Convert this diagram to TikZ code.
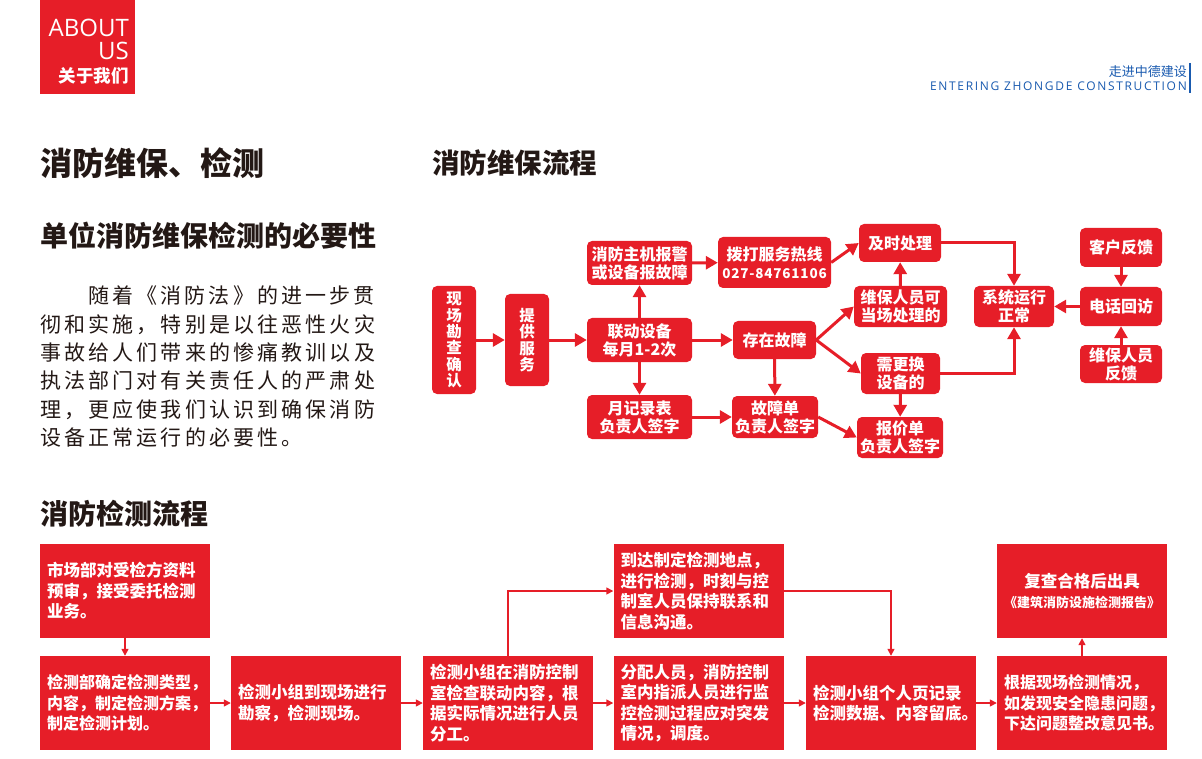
\documentclass[tikz,border=0pt]{standalone}
\usepackage{fontspec}
\setmainfont{Noto Sans CJK SC}
\newfontfamily\latinfont{Open Sans}
\usetikzlibrary{arrows.meta}
\definecolor{firered}{RGB}{230,30,40}
\definecolor{headblue}{RGB}{25,90,175}
\definecolor{inkblack}{RGB}{35,24,21}

\begin{document}
\begin{tikzpicture}[
    x=1pt, y=-1pt,
    flow/.style={rounded corners=5pt, fill=firered, text=white, inner sep=0pt,
        align=center, font=\bfseries\fontsize{16}{18}\selectfont},
    task/.style={fill=firered, text=white, minimum width=170pt, minimum height=94pt,
        inner xsep=7pt, text width=156pt, align=left,
        font=\bfseries\fontsize{16.5}{20.5}\selectfont},
    link/.style={firered, line width=3pt, -{Triangle[length=12pt,width=13pt]}},
    thinlink/.style={firered, line width=1.5pt, -{Triangle[length=7pt,width=7pt]}},
    heading/.style={anchor=west, inner sep=0pt, text=inkblack,
        font=\bfseries\fontsize{28}{28}\selectfont}
]
    \useasboundingbox (0,0) rectangle (1202,759);

    % logo and header
    \node[fill=firered, minimum width=95pt, minimum height=94pt, inner sep=0pt,
        anchor=north west] (logo) at (40,0) {};
    \node[anchor=east, inner sep=0pt, text=white, font=\latinfont\fontsize{24}{24}\selectfont]
        (about) at (129,28) {ABOUT};
    \node[anchor=east, inner sep=0pt, text=white, font=\latinfont\fontsize{24}{24}\selectfont]
        (us) at (129,51) {US};
    \node[anchor=east, inner sep=0pt, text=white, font=\bfseries\fontsize{17.5}{17.5}\selectfont]
        (gywm) at (129,76) {关于我们};
    \node[anchor=east, inner sep=0pt, text=headblue, font=\fontsize{13}{13}\selectfont]
        (zjzd) at (1187,72) {走进中德建设};
    \node[anchor=east, inner sep=0pt, text=headblue,
        font=\latinfont\fontsize{12}{12}\selectfont\addfontfeature{LetterSpace=14}]
        (entering) at (1187,86) {ENTERING ZHONGDE CONSTRUCTION};
    \draw[headblue, line width=1.5pt] (1190,63) -- (1190,93);

    % headings and text
    \node[heading, font=\bfseries\fontsize{32}{32}\selectfont] (title) at (40,163) {消防维保、检测};
    \node[heading] (need) at (40,236) {单位消防维保检测的必要性};
    \node[heading, font=\bfseries\fontsize{27.5}{27.5}\selectfont] (wbtitle) at (432,163) {消防维保流程};
    \node[heading] (jctitle) at (40,514) {消防检测流程};
    \node[anchor=north west, inner sep=0pt, text=inkblack, align=left,
        font=\fontsize{21}{28.3}\selectfont\addfontfeature{LetterSpace=15}] (intro) at (40,286)
        {\hspace*{48pt}随着《消防法》的进一步贯\\
         彻和实施，特别是以往恶性火灾\\
         事故给人们带来的惨痛教训以及\\
         执法部门对有关责任人的严肃处\\
         理，更应使我们认识到确保消防\\
         设备正常运行的必要性。};

    % maintenance flow
    \node[flow, minimum width=44pt, minimum height=108pt, font=\bfseries\fontsize{15.5}{16.3}\selectfont]
        (xcqr) at (454,340) {现\\场\\勘\\查\\确\\认};
    \node[flow, minimum width=44pt, minimum height=92pt, font=\bfseries\fontsize{15.5}{16.3}\selectfont]
        (tgfw) at (527,340) {提\\供\\服\\务};
    \node[flow, minimum width=105pt, minimum height=44pt] (xfzj) at (639.5,263) {消防主机报警\\或设备报故障};
    \node[flow, minimum width=113pt, minimum height=51pt] (bdfw) at (774.5,262.5)
        {拨打服务热线\\{\fontsize{13.5}{18}\selectfont\addfontfeature{LetterSpace=6}027-84761106}};
    \node[flow, minimum width=105pt, minimum height=44pt] (ldsb) at (639.5,340) {联动设备\\每月1-2次};
    \node[flow, minimum width=83pt, minimum height=38pt] (czgz) at (774.5,340) {存在故障};
    \node[flow, minimum width=105pt, minimum height=44pt] (yjlb) at (639.5,417) {月记录表\\负责人签字};
    \node[flow, minimum width=86pt, minimum height=42pt] (gzd) at (775,417) {故障单\\负责人签字};
    \node[flow, minimum width=82pt, minimum height=38pt] (jscl) at (900,243) {及时处理};
    \node[flow, minimum width=93pt, minimum height=41pt] (wbkc) at (900.5,306.5) {维保人员可\\当场处理的};
    \node[flow, minimum width=79pt, minimum height=41pt] (xgh) at (900.5,373.5) {需更换\\设备的};
    \node[flow, minimum width=86pt, minimum height=41pt] (bjd) at (900,437.5) {报价单\\负责人签字};
    \node[flow, minimum width=80pt, minimum height=41pt] (xtyx) at (1014,306.5) {系统运行\\正常};
    \node[flow, minimum width=82pt, minimum height=39pt] (khfk) at (1121,247.5) {客户反馈};
    \node[flow, minimum width=82pt, minimum height=39pt] (dhhf) at (1121,306.5) {电话回访};
    \node[flow, minimum width=82pt, minimum height=38pt] (wbfk) at (1121,364) {维保人员\\反馈};

    \draw[link] (xcqr) -- (tgfw);
    \draw[link] (tgfw) -- (ldsb);
    \draw[link] (ldsb) -- (xfzj);
    \draw[link] (ldsb) -- (yjlb);
    \draw[link] (ldsb) -- (czgz);
    \draw[link] (xfzj) -- (bdfw);
    \draw[link] (bdfw.east) -- (jscl.west);
    \draw[link] (czgz.east) -- (wbkc.west);
    \draw[link] (czgz.east) -- (xgh.west);
    \draw[link] (czgz) -- (gzd);
    \draw[link] (yjlb) -- (gzd);
    \draw[link] (gzd.east) -- (bjd.west);
    \draw[link] (wbkc) -- (jscl);
    \draw[link] (xgh) -- (bjd);
    \draw[link] (jscl.east) -| (xtyx.north);
    \draw[link] (xgh.east) -| (xtyx.south);
    \draw[link] (dhhf) -- (xtyx);
    \draw[link] (khfk) -- (dhhf);
    \draw[link] (wbfk) -- (dhhf);

    % testing flow
    \node[task] (sc) at (125,591) {市场部对受检方资料\\预审，接受委托检测\\业务。};
    \node[task, font=\bfseries\fontsize{16}{20.5}\selectfont] (jcb) at (125,703)
        {检测部确定检测类型，\\内容，制定检测方案，\\制定检测计划。};
    \node[task] (kc) at (316,703) {检测小组到现场进行\\勘察，检测现场。};
    \node[task] (fg) at (508,703) {检测小组在消防控制\\室检查联动内容，根\\据实际情况进行人员\\分工。};
    \node[task] (gt) at (698.5,591) {到达制定检测地点，\\进行检测，时刻与控\\制室人员保持联系和\\信息沟通。};
    \node[task] (fp) at (698.5,703) {分配人员，消防控制\\室内指派人员进行监\\控检测过程应对突发\\情况，调度。};
    \node[task] (jl) at (891,703) {检测小组个人页记录\\检测数据、内容留底。};
    \node[task, align=center] (bg) at (1082,591)
        {复查合格后出具\\{\fontsize{13}{16}\selectfont《建筑消防设施检测报告》}};
    \node[task, font=\bfseries\fontsize{16}{20.5}\selectfont] (zg) at (1082,703)
        {根据现场检测情况，\\如发现安全隐患问题，\\下达问题整改意见书。};

    \draw[thinlink] (sc) -- (jcb);
    \draw[thinlink] (jcb) -- (kc);
    \draw[thinlink] (kc) -- (fg);
    \draw[thinlink] (fg) -- (fp);
    \draw[thinlink] (fg.north) |- (gt.west);
    \draw[thinlink] (gt.east) -| (jl.north);
    \draw[thinlink] (fp) -- (jl);
    \draw[thinlink] (jl) -- (zg);
    \draw[thinlink] (zg) -- (bg);
\end{tikzpicture}
\end{document}
